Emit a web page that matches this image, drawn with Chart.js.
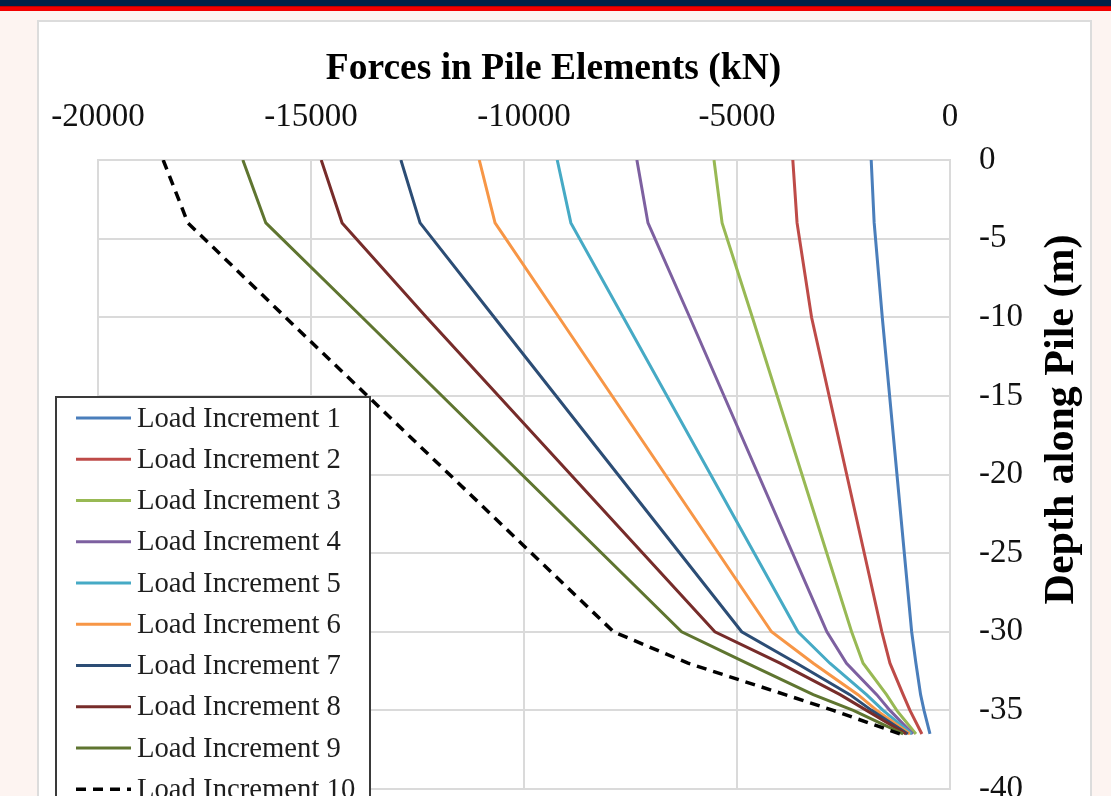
<!DOCTYPE html>
<html>
<head>
<meta charset="utf-8">
<title>Forces in Pile Elements</title>
<script src="https://cdn.jsdelivr.net/npm/chart.js@4.4.1/dist/chart.umd.min.js"></script>
<style>
  html, body { margin: 0; padding: 0; overflow: hidden; }
  body { width: 1111px; height: 796px; background: #fdf4f1; position: relative; font-family: "Liberation Serif", serif; }
  .band { position: absolute; left: 0; top: 0; width: 1111px; height: 6px; background: #002147; }
  .band2 { position: absolute; left: 0; top: 6px; width: 1111px; height: 5px; background: #f20000; border-top: 1px solid #c00000; box-sizing: border-box; }
  .card { position: absolute; left: 37px; top: 20px; width: 1055px; height: 900px; background: #fff; border: 2px solid #dcdcdc; box-sizing: border-box; }
  #wrap { position: absolute; left: 38px; top: 21px; width: 1053px; height: 850px; }
</style>
</head>
<body>
<div class="band"></div>
<div class="band2"></div>
<div class="card"></div>
<div id="wrap"><canvas id="grafica" width="1053" height="850"></canvas></div>
<script>
// profundidades (m) donde se leen las fuerzas
const depths = [0, -4, -10, -30, -32, -34, -35, -36.5];

// fuerzas (kN) por incremento de carga
const inc1 = [-1850, -1780, -1590, -900, -800, -690, -610, -470];
const inc2 = [-3690, -3590, -3250, -1600, -1410, -1100, -940, -660];
const inc3 = [-5540, -5350, -4640, -2310, -2040, -1490, -1250, -800];
const inc4 = [-7350, -7090, -6110, -2890, -2430, -1720, -1410, -870];
const inc5 = [-9220, -8900, -7670, -3570, -2820, -1960, -1570, -900];
const inc6 = [-11050, -10680, -9180, -4190, -3210, -2160, -1720, -940];
const inc7 = [-12890, -12440, -10700, -4890, -3600, -2350, -1840, -990];
const inc8 = [-14760, -14270, -12290, -5520, -3990, -2580, -1960, -1030];
const inc9 = [-16600, -16060, -13800, -6300, -4770, -3210, -2270, -1100];
const inc10 = [-18470, -17890, -15600, -7900, -6150, -3870, -2740, -1170];

const seriesNames = ['Load Increment 1', 'Load Increment 2', 'Load Increment 3', 'Load Increment 4',
  'Load Increment 5', 'Load Increment 6', 'Load Increment 7', 'Load Increment 8',
  'Load Increment 9', 'Load Increment 10'];
const seriesValues = [inc1, inc2, inc3, inc4, inc5, inc6, inc7, inc8, inc9, inc10];
const colores = ['#4a7ebb', '#be4b48', '#98b954', '#7d60a0', '#46aac5',
  '#f79646', '#2c4d75', '#772c2a', '#5f7530', '#000000'];

const xTicks = [-20000, -15000, -10000, -5000, 0];
const yTicks = [0, -5, -10, -15, -20, -25, -30, -35, -40];

const chartTitle = 'Forces in Pile Elements (kN)';
const yTitle = 'Depth along Pile (m)';

const serif = '"Liberation Serif", "Times New Roman", serif';

const datasets = seriesValues.map((vals, i) => ({
  label: seriesNames[i],
  data: vals.map((v, k) => ({ x: v, y: depths[k] })),
  borderColor: colores[i],
  backgroundColor: colores[i],
  borderWidth: i === 9 ? 3.5 : 3,
  borderDash: i === 9 ? [10, 7] : [],
  showLine: true,
  pointRadius: 0,
  tension: 0,
  order: 10 - i
}));

// titulo, titulo del eje y leyenda dibujados encima
const overlay = {
  id: 'overlay',
  afterDraw(chart) {
    const ctx = chart.ctx;
    const area = chart.chartArea;
    ctx.save();

    ctx.fillStyle = '#000';
    ctx.textAlign = 'center';
    ctx.textBaseline = 'middle';
    ctx.font = 'bold 37.5px ' + serif;
    ctx.fillText(chartTitle, (area.left + area.right) / 2 + 29.5, 48);

    ctx.translate(area.right + 112, (area.top + area.bottom) / 2 - 55);
    ctx.rotate(-Math.PI / 2);
    ctx.font = 'bold 42px ' + serif;
    ctx.fillText(yTitle, 0, 0);
    ctx.restore();

    // leyenda
    ctx.save();
    const bx = 18, by = 376, bw = 314, bh = 500;
    ctx.fillStyle = '#fff';
    ctx.fillRect(bx, by, bw, bh);
    ctx.strokeStyle = '#3a3a3a';
    ctx.lineWidth = 2;
    ctx.strokeRect(bx, by, bw, bh);
    ctx.font = '28.7px ' + serif;
    ctx.textAlign = 'left';
    ctx.textBaseline = 'middle';
    chart.data.datasets.forEach((ds, i) => {
      const y = by + 21 + i * 41.25;
      ctx.strokeStyle = ds.borderColor;
      ctx.lineWidth = ds.borderWidth;
      ctx.setLineDash(ds.borderDash);
      ctx.beginPath();
      ctx.moveTo(bx + 20, y);
      ctx.lineTo(bx + 75, y);
      ctx.stroke();
      ctx.setLineDash([]);
      ctx.fillStyle = '#1e1e1e';
      ctx.fillText(ds.label, bx + 81, y + 1);
    });
    ctx.restore();
  }
};

new Chart(document.getElementById('grafica'), {
  type: 'scatter',
  data: { datasets: datasets },
  options: {
    responsive: false,
    animation: false,
    layout: { padding: { left: 60, top: 60, right: 0, bottom: 82 } },
    plugins: {
      legend: { display: false },
      title: { display: false },
      tooltip: { enabled: false }
    },
    scales: {
      x: {
        type: 'linear',
        position: 'top',
        min: -20000,
        max: 0,
        afterBuildTicks: s => { s.ticks = xTicks.map(v => ({ value: v })); },
        afterFit: s => { s.height = 79; s.paddingLeft = 0; s.paddingRight = 0; },
        grid: { color: '#dadada', lineWidth: 2, drawTicks: false },
        border: { color: '#dadada', width: 2 },
        ticks: { padding: 23, color: '#111', font: { family: serif, size: 33 }, callback: v => String(v) }
      },
      y: {
        type: 'linear',
        position: 'right',
        min: -40,
        max: 0,
        afterBuildTicks: s => { s.ticks = yTicks.map(v => ({ value: v })); },
        afterFit: s => { s.width = 141; },
        grid: { color: '#dadada', lineWidth: 2, drawTicks: false },
        border: { color: '#dadada', width: 2 },
        ticks: { padding: 29, color: '#111', font: { family: serif, size: 33 }, callback: v => String(v) }
      }
    }
  },
  plugins: [overlay]
});
</script>
</body>
</html>
